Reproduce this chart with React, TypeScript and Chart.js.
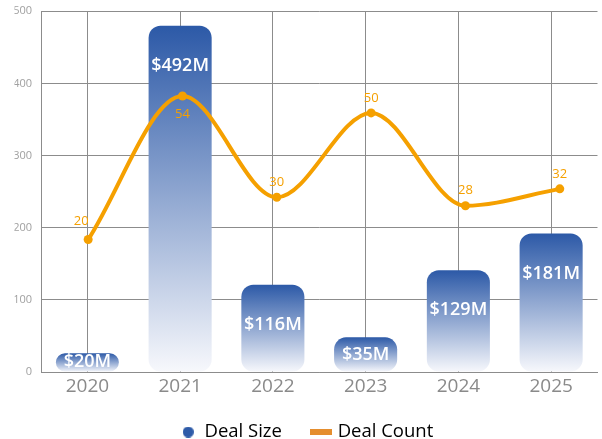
import React, { useEffect, useRef } from 'react';
import { Chart, registerables } from 'chart.js';

Chart.register(...registerables);

// ---- data ----
const years = ['2020', '2021', '2022', '2023', '2024', '2025'];
const dealSizeBars = [26, 480, 121, 48, 141, 192];
const dealSizeLabels = ['$20M', '$492M', '$116M', '$35M', '$129M', '$181M'];
const dealCounts = [20, 54, 30, 50, 28, 32];
const yTicks = [0, 100, 200, 300, 400, 500];

const FONT = "'Open Sans', sans-serif";
const BLUE = '#2c59a7';
const ORANGE = '#f5a000';
const GRID = '#8c8c8c';

function makeCircle(color: string, d: number) {
  const c = document.createElement('canvas');
  c.width = d;
  c.height = d;
  const g = c.getContext('2d')!;
  g.fillStyle = color;
  g.beginPath();
  g.arc(d / 2, d / 2, d / 2, 0, Math.PI * 2);
  g.fill();
  return c;
}

function makeRect(color: string, w: number, h: number) {
  const c = document.createElement('canvas');
  c.width = w;
  c.height = h;
  const g = c.getContext('2d')!;
  g.fillStyle = color;
  g.fillRect(0, 0, w, h);
  return c;
}

const LEGEND_H = 38;
const LEGEND_SHIFT = 10.75;

const legendFitPlugin = {
  id: 'legendFit',
  beforeUpdate(chart: any) {
    const lg = chart.legend;
    if (lg && !lg.__patched) {
      const origFit = lg.fit;
      lg.fit = function () {
        origFit.call(this);
        this.height = LEGEND_H;
      };
      const origDraw = lg._draw;
      lg._draw = function () {
        this.top -= LEGEND_SHIFT;
        try {
          origDraw.call(this);
        } finally {
          this.top += LEGEND_SHIFT;
        }
      };
      lg.__patched = true;
    }
  },
};

const labelPlugin = {
  id: 'valueLabels',
  afterDatasetsDraw(chart: any) {
    const ctx = chart.ctx;
    ctx.save();
    const barMeta = chart.getDatasetMeta(0);
    ctx.fillStyle = '#ffffff';
    ctx.font = `600 18px ${FONT}`;
    ctx.textAlign = 'center';
    ctx.textBaseline = 'middle';
    barMeta.data.forEach((bar: any, i: number) => {
      const { x, y, base } = bar.getProps(['x', 'y', 'base'], true);
      const h = base - y;
      const ty = y + Math.min(h / 2, 40);
      ctx.fillText(dealSizeLabels[i], x, ty);
    });
    const lineMeta = chart.getDatasetMeta(1);
    ctx.fillStyle = ORANGE;
    ctx.font = `500 13px ${FONT}`;
    lineMeta.data.forEach((pt: any, i: number) => {
      let dx = 0;
      let dy = -15;
      if (i === 1) dy = 18;
      if (i === 0) {
        dx = -7;
        dy = -18;
      }
      ctx.fillText(String(dealCounts[i]), pt.x + dx, pt.y + dy);
    });
    ctx.restore();
  },
};

export default function App() {
  const ref = useRef<HTMLCanvasElement>(null);

  useEffect(() => {
    document.body.style.margin = '0';
    const canvas = ref.current!;
    const circle = makeCircle('#2e5ba8', 11);
    const rect = makeRect('#e58e2e', 22, 6);

    const chart = new Chart(canvas, {
      type: 'bar',
      data: {
        labels: years,
        datasets: [
          {
            type: 'bar',
            label: 'Deal Size',
            data: dealSizeBars,
            order: 2,
            xAxisID: 'x',
            yAxisID: 'y',
            grouped: false,
            barPercentage: 0.68,
            categoryPercentage: 1,
            borderRadius: 12,
            borderSkipped: false,
            backgroundColor: (c: any) => {
              const ch = c.chart;
              if (!ch.chartArea || c.type !== 'data') return BLUE;
              const ys = ch.scales.y;
              const top = ys.getPixelForValue(c.raw);
              const bottom = ys.getPixelForValue(0);
              const g = ch.ctx.createLinearGradient(0, top, 0, bottom);
              g.addColorStop(0, BLUE);
              g.addColorStop(1, '#f7f8fc');
              return g;
            },
          } as any,
          {
            type: 'line',
            label: 'Deal Count',
            data: dealCounts.map((v, i) => ({ x: i, y: v })),
            order: 1,
            xAxisID: 'x2',
            yAxisID: 'y2',
            borderColor: ORANGE,
            backgroundColor: ORANGE,
            borderWidth: 4,
            pointRadius: 4.5,
            pointBackgroundColor: ORANGE,
            pointBorderWidth: 0,
            cubicInterpolationMode: 'monotone',
            fill: false,
          } as any,
        ],
      },
      options: {
        responsive: false,
        animation: false,
        devicePixelRatio: 1,
        layout: { padding: { top: 11, right: 2, left: 14.5, bottom: 0 } },
        scales: {
          x: {
            type: 'category',
            offset: true,
            grid: { color: GRID, offset: false, drawTicks: false },
            border: { color: GRID },
            ticks: { color: '#8a8a8a', font: { family: FONT, size: 19, lineHeight: 1.0 }, padding: 5 },
          },
          x2: { type: 'linear', display: false, offset: false, grid: { offset: false }, min: -0.5, max: 5.4 },
          y: {
            min: 0,
            max: 500,
            afterFit: (s: any) => {
              s.width = 26.5;
            },
            afterBuildTicks: (s: any) => {
              s.ticks = yTicks.map((v) => ({ value: v }));
            },
            grid: { color: GRID, drawTicks: false },
            border: { color: GRID },
            ticks: { color: '#a0a0a0', font: { family: FONT, size: 11, lineHeight: 0.4 }, padding: 9 },
          },
          y2: { type: 'linear', display: false, min: -11.4, max: 74.1 },
        },
        plugins: {
          tooltip: { enabled: false },
          legend: {
            position: 'bottom',
            labels: {
              usePointStyle: true,
              boxWidth: 14,
              padding: 32.5,
              color: '#222',
              font: { family: FONT, size: 18.5 },
              generateLabels: () => [
                { text: 'Deal Size', pointStyle: circle, fillStyle: '#2e5ba8', strokeStyle: '#2e5ba8', lineWidth: 0, hidden: false, datasetIndex: 0 },
                { text: 'Deal Count', pointStyle: rect, fillStyle: '#e58e2e', strokeStyle: '#e58e2e', lineWidth: 0, hidden: false, datasetIndex: 1 },
              ] as any,
            },
          },
        },
      } as any,
      plugins: [legendFitPlugin, labelPlugin],
    });
    return () => chart.destroy();
  }, []);

  return (
    <div style={{ width: 602, height: 439 }}>
      <canvas ref={ref} width={602} height={439} />
    </div>
  );
}
